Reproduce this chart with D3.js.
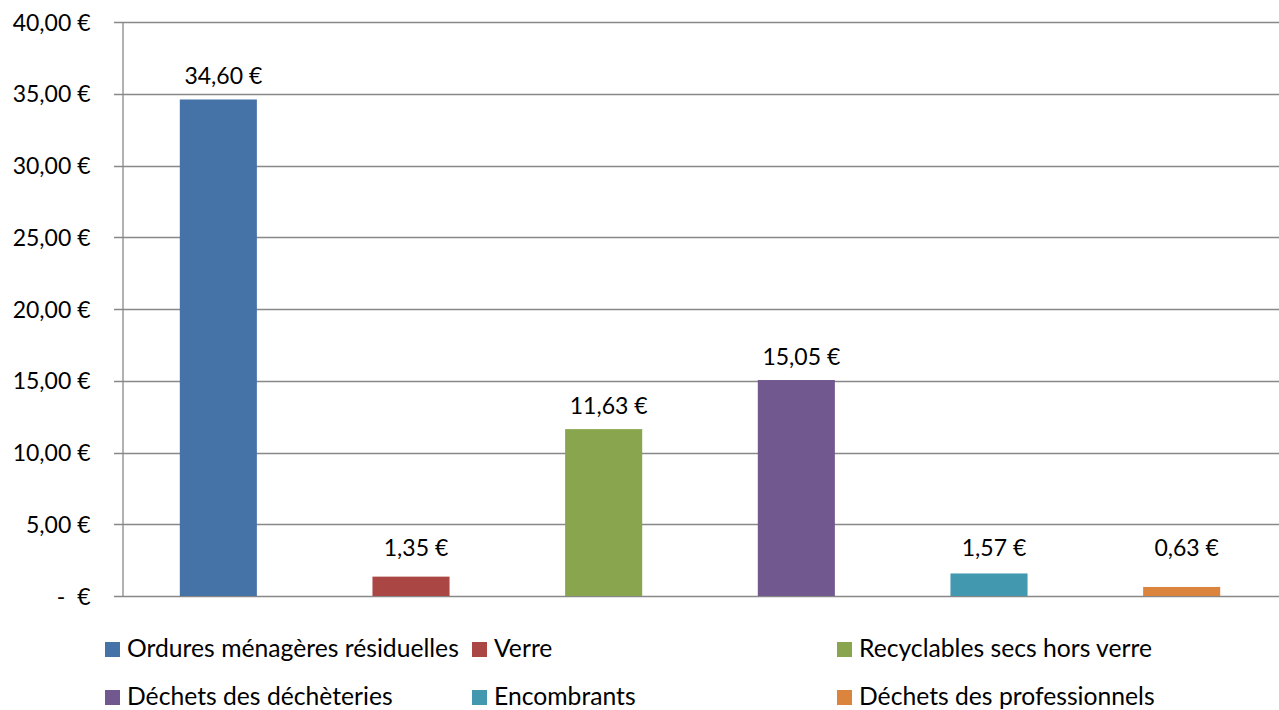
<!DOCTYPE html>
<html>
<head>
<meta charset="utf-8">
<script src="https://cdn.jsdelivr.net/npm/d3@7"></script>
<style>
  html, body { margin: 0; padding: 0; background: #fff; }
  svg { display: block; font-family: Lato, "Open Sans", sans-serif; }
</style>
</head>
<body>
<svg id="chart" width="1279" height="710"></svg>
<script>
const categories = [
  "Ordures ménagères résiduelles",
  "Verre",
  "Recyclables secs hors verre",
  "Déchets des déchèteries",
  "Encombrants",
  "Déchets des professionnels"
];
const values = [34.60, 1.35, 11.63, 15.05, 1.57, 0.63];
const colors = ["#4572A7", "#AA4643", "#89A54E", "#71588F", "#4198AF", "#DB843D"];
const yTicks = [0, 5, 10, 15, 20, 25, 30, 35, 40];

const fmt = v => v === 0 ? "-  €" : d3.format(",.2f")(v).replace(".", ",") + " €";

const svg = d3.select("#chart");
const fontSize = 23;
const legendFontSize = 24.7;

const x = d3.scaleBand().domain(categories).range([122, 1278]).paddingInner(0.6).paddingOuter(0.3);
const y = d3.scaleLinear().domain([0, 40]).range([596, 22]);

// gridlines
svg.append("g").selectAll("line").data(yTicks).join("line")
  .attr("x1", 114).attr("x2", 1279)
  .attr("y1", d => Math.round(y(d)) + 0.5).attr("y2", d => Math.round(y(d)) + 0.5)
  .attr("stroke", "#888").attr("stroke-width", 1.3);

// y axis
const yAxis = d3.axisLeft(y).tickValues(yTicks).tickSize(0).tickPadding(32).tickFormat(fmt);
const gy = svg.append("g").attr("transform", "translate(122.5,0)").call(yAxis);
gy.select(".domain").attr("stroke", "#888").attr("stroke-width", 1.3);
gy.selectAll("text").attr("font-size", fontSize).attr("fill", "#000")
  .attr("font-family", "Lato").style("white-space", "pre").attr("dy", "0.35em");

// bars
svg.append("g").selectAll("rect").data(values).join("rect")
  .attr("x", (d, i) => x(categories[i]))
  .attr("width", x.bandwidth())
  .attr("y", d => y(d))
  .attr("height", d => y(0) - y(d))
  .attr("fill", (d, i) => colors[i]);

// data labels
svg.append("g").selectAll("text").data(values).join("text")
  .attr("x", (d, i) => x(categories[i]) + x.bandwidth() / 2 + 5)
  .attr("y", d => Math.min(y(d) - 15, y(0) - 40))
  .attr("text-anchor", "middle")
  .attr("font-size", fontSize)
  .attr("fill", "#000")
  .text(d => fmt(d));

// legend
const legendCols = [105, 472, 837];
const legendRows = [642, 690];
const lg = svg.append("g").selectAll("g").data(categories).join("g")
  .attr("transform", (d, i) => `translate(${legendCols[i % 3]},${legendRows[Math.floor(i / 3)]})`);
lg.append("rect").attr("width", 15).attr("height", 15).attr("fill", (d, i) => colors[i]);
lg.append("text").attr("x", 22).attr("y", 15).attr("font-size", legendFontSize).attr("fill", "#000").text(d => d);
</script>
</body>
</html>
